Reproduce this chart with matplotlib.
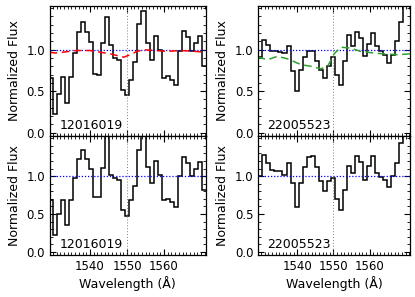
import numpy as np
import matplotlib
matplotlib.use("Agg")
import matplotlib.pyplot as plt
from matplotlib.ticker import MultipleLocator

# wavelength grid (bin start + width) for each object
left_start = 1528.84
left_step = 1.09
right_start = 1528.08
right_step = 1.116

# object names
name_left = "12016019"
name_right = "22005523"

# flux of 12016019, raw and divided by continuum
flux_left = [0.66, 0.22, 0.47, 0.67, 0.36, 0.67, 0.96, 1.21, 1.33, 1.21,
             1.09, 0.71, 0.70, 1.08, 1.39, 1.06, 0.90, 0.87, 0.52, 0.45,
             0.64, 0.85, 1.31, 1.47, 1.08, 0.88, 1.17, 1.00, 0.66, 0.68,
             0.64, 0.58, 0.99, 1.22, 1.15, 0.98, 1.08, 1.17, 0.80]
norm_left = [0.68, 0.22, 0.50, 0.69, 0.36, 0.69, 0.97, 1.23, 1.35, 1.23,
             1.10, 0.73, 0.73, 1.11, 1.60, 1.01, 0.97, 0.95, 0.55, 0.48,
             0.68, 0.87, 1.34, 1.55, 1.12, 0.91, 1.20, 1.02, 0.68, 0.70,
             0.66, 0.59, 1.00, 1.25, 1.17, 1.00, 1.10, 1.19, 0.82]

# flux of 22005523, raw and divided by continuum
flux_right = [0.64, 0.91, 1.12, 1.06, 0.98, 0.98, 0.97, 0.96, 1.04, 0.74,
              0.50, 0.76, 0.91, 0.98, 0.98, 0.86, 0.76, 0.66, 0.80, 0.91,
              0.69, 0.57, 0.86, 1.18, 1.05, 1.21, 1.14, 0.92, 1.07, 1.20,
              1.04, 0.98, 0.93, 0.84, 0.94, 1.10, 1.33, 1.65, 1.65]
norm_right = [0.75, 1.00, 1.28, 1.18, 1.08, 1.07, 1.07, 1.01, 1.18, 0.91,
              0.59, 0.91, 1.12, 1.25, 1.27, 1.12, 0.93, 0.80, 0.93, 0.97,
              0.70, 0.56, 0.82, 1.13, 1.04, 1.26, 1.19, 0.95, 1.13, 1.26,
              1.04, 0.99, 0.95, 0.86, 1.00, 1.18, 1.44, 1.70, 1.70]

# continuum fits
cont_left_wave = [1529.1, 1530.5, 1532.7, 1536.4, 1540.0, 1542.7, 1545.5, 1547.3,
                  1549.1, 1550.9, 1552.7, 1554.5, 1557.3, 1560.9, 1564.5, 1568.2, 1571.2]
cont_left = [0.97, 0.96, 0.97, 0.99, 0.99, 0.97, 0.95, 0.93,
             0.91, 0.94, 0.98, 1.00, 0.99, 0.98, 0.99, 0.98, 0.97]
cont_right_wave = [1529.0, 1531.8, 1534.5, 1537.3, 1541.0, 1543.7, 1546.5, 1548.4,
                   1550.2, 1552.0, 1554.7, 1557.5, 1561.1, 1563.9, 1567.7, 1571.4]
cont_right = [0.91, 0.88, 0.92, 0.89, 0.82, 0.80, 0.77, 0.80,
              0.95, 1.03, 1.02, 0.98, 0.96, 0.95, 0.94, 0.95]

civ = 1550.0
xlim = (1529.2, 1571.2)
ylim = (-0.04, 1.53)

edges_left = left_start + left_step*np.arange(len(flux_left)+1)
edges_right = right_start + right_step*np.arange(len(flux_right)+1)

plt.rcParams["font.family"] = "DejaVu Sans"
fig = plt.figure(figsize=(4.15, 2.97), dpi=100)
W, H = 415.0, 297.0
ax_tl = fig.add_axes([50/W, 161/H, 155.5/W, 130.3/H])
ax_bl = fig.add_axes([50/W, 42/H, 155.5/W, 119/H])
ax_tr = fig.add_axes([258.3/W, 161/H, 151.7/W, 130.3/H])
ax_br = fig.add_axes([258.3/W, 42/H, 151.7/W, 119/H])

panels = [(ax_tl, edges_left, flux_left, name_left, cont_left_wave, cont_left, "red"),
          (ax_bl, edges_left, norm_left, name_left, None, None, None),
          (ax_tr, edges_right, flux_right, name_right, cont_right_wave, cont_right, "#2ca02c"),
          (ax_br, edges_right, norm_right, name_right, None, None, None)]

for ax, edges, vals, name, cw, cf, ccol in panels:
    ax.stairs(vals, edges, baseline=None, color="black", lw=1.1)
    ax.axhline(1.0, color="blue", ls=(0, (1, 1.5)), lw=0.9)
    ax.axvline(civ, color="gray", ls=(0, (1, 2)), lw=0.7)
    if cw is not None:
        ax.plot(cw, cf, color=ccol, ls=(0, (5, 3)), lw=1.1)
    ax.set_xlim(xlim)
    ax.set_ylim(ylim)
    ax.set_yticks([0.0, 0.5, 1.0])
    ax.set_yticklabels(["0.0", "0.5", "1.0"])
    ax.set_xticks([1540, 1550, 1560])
    ax.xaxis.set_minor_locator(MultipleLocator(1))
    ax.yaxis.set_minor_locator(MultipleLocator(0.1))
    ax.tick_params(which="both", direction="in", top=True, right=True, labelsize=8.5)
    ax.tick_params(which="major", length=4, width=0.8)
    ax.tick_params(which="minor", length=2, width=0.6)
    ax.set_ylabel("Normalized Flux", fontsize=9, labelpad=4)
    ax.text(0.06, 0.03, name, transform=ax.transAxes, fontsize=9, va="bottom")
    for s in ax.spines.values():
        s.set_linewidth(0.9)

for ax in [ax_tl, ax_tr]:
    ax.tick_params(labelbottom=False)
for ax in [ax_bl, ax_br]:
    ax.set_xlabel("Wavelength (Å)", fontsize=9, labelpad=2)

fig.savefig("out.png", dpi=100)
